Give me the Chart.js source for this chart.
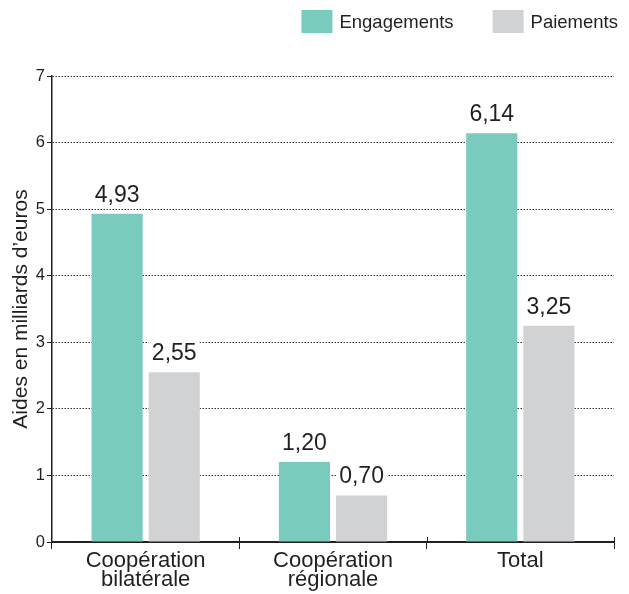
<!DOCTYPE html>
<html>
<head>
<meta charset="utf-8">
<script src="https://cdn.jsdelivr.net/npm/chart.js@4"></script>
<style>
html,body{margin:0;padding:0;background:#fff;}
#wrap{width:629px;height:594px;}
</style>
</head>
<body>
<div id="wrap"><canvas id="c" width="629" height="594"></canvas></div>
<script>
const categories = [["Coopération", "bilatérale"], ["Coopération", "régionale"], ["Total"]];
const engagements = [4.93, 1.20, 6.14];
const paiements = [2.55, 0.70, 3.25];
const seriesNames = ["Engagements", "Paiements"];
const yTicks = [0, 1, 2, 3, 4, 5, 6, 7];
const yTitle = "Aides en milliards d’euros";

const TEAL = "#79CBBD";
const GRAY = "#D1D2D4";
const INK = "#231F20";
const FONT = "'Liberation Sans', Arial, sans-serif";

const valueLabels = {
  id: "valueLabels",
  afterDatasetsDraw(chart) {
    const ctx = chart.ctx;
    ctx.save();
    ctx.font = "23px " + FONT;
    ctx.textAlign = "center";
    ctx.textBaseline = "alphabetic";
    chart.data.datasets.forEach((ds, di) => {
      const meta = chart.getDatasetMeta(di);
      meta.data.forEach((bar, i) => {
        const txt = ds.data[i].toFixed(2).replace(".", ",");
        const w = ctx.measureText(txt).width;
        const yb = bar.y - 12;
        ctx.fillStyle = "#fff";
        ctx.fillRect(bar.x - w / 2 - 3, yb - 19, w + 6, 23);
        ctx.fillStyle = INK;
        ctx.fillText(txt, bar.x, yb);
      });
    });
    ctx.restore();
  }
};

const upTicks = {
  id: "upTicks",
  afterDraw(chart) {
    const xs = chart.scales.x;
    const ctx = chart.ctx;
    const n = chart.data.labels.length;
    const step = (xs.right - xs.left) / n;
    ctx.save();
    ctx.strokeStyle = INK;
    ctx.lineWidth = 1;
    ctx.beginPath();
    for (let i = 1; i <= n; i++) {
      const x = Math.round(xs.left + step * i) + 0.5;
      ctx.moveTo(x, xs.top - 5);
      ctx.lineTo(x, xs.top);
    }
    ctx.stroke();
    ctx.restore();
  }
};

const customLegend = {
  id: "customLegend",
  afterDraw(chart) {
    const ctx = chart.ctx;
    ctx.save();
    ctx.font = "18.5px " + FONT;
    ctx.textBaseline = "middle";
    ctx.textAlign = "left";
    const boxW = 31, boxH = 23, gapText = 7, gapItem = 39;
    const items = chart.data.datasets.map(d => ({label: d.label, color: d.backgroundColor}));
    let x = chart.width - 11;
    const yTop = 10;
    for (let k = items.length - 1; k >= 0; k--) {
      const it = items[k];
      const tw = ctx.measureText(it.label).width;
      const tx = x - tw;
      const bx = tx - gapText - boxW;
      ctx.fillStyle = it.color;
      ctx.fillRect(bx, yTop, boxW, boxH);
      ctx.fillStyle = INK;
      ctx.fillText(it.label, tx, yTop + boxH / 2 + 1);
      x = bx - gapItem;
    }
    ctx.restore();
  }
};

new Chart(document.getElementById("c"), {
  type: "bar",
  data: {
    labels: categories,
    datasets: [
      {label: seriesNames[0], data: engagements, backgroundColor: TEAL},
      {label: seriesNames[1], data: paiements, backgroundColor: GRAY}
    ]
  },
  options: {
    responsive: false,
    animation: false,
    devicePixelRatio: 1,
    layout: {padding: {top: 76, right: 15, left: 0, bottom: 0}},
    categoryPercentage: 0.61,
    barPercentage: 0.895,
    plugins: {legend: {display: false}, tooltip: {enabled: false}},
    scales: {
      x: {
        grid: {display: true, drawOnChartArea: false, drawTicks: true, tickLength: 7, color: INK, lineWidth: 1, offset: true},
        border: {display: true, color: INK, width: 2},
        ticks: {color: INK, font: {family: FONT, size: 22, lineHeight: 0.88}, padding: 2, maxRotation: 0},
        afterFit(s) { s.height = 52; }
      },
      y: {
        min: 0, max: 7,
        afterBuildTicks(s) { s.ticks = yTicks.map(v => ({value: v})); },
        grid: {
          color: c => (c.tick && c.tick.value === 0) ? "rgba(0,0,0,0)" : "#333",
          lineWidth: 1,
          tickColor: INK,
          tickBorderDash: [],
          tickLength: 5
        },
        border: {display: true, color: INK, width: 1.5, dash: [1.5, 1.5]},
        ticks: {color: INK, font: {family: FONT, size: 16.5}, padding: 2},
        title: {display: true, text: yTitle, color: INK, font: {family: FONT, size: 21}, padding: {top: 9, bottom: 0}},
        afterFit(s) { s.width = 52; }
      }
    }
  },
  plugins: [valueLabels, upTicks, customLegend]
});
</script>
</body>
</html>
